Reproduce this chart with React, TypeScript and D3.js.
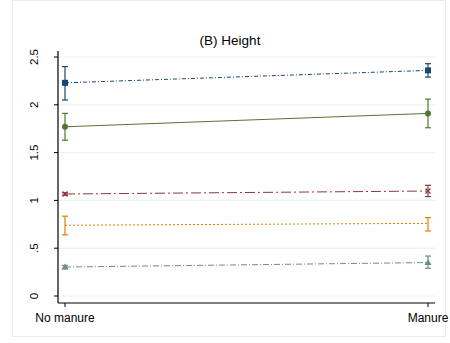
import React from "react";
import * as d3 from "d3";

const categories = ["No manure", "Manure"];
const yTicks = [0, 0.5, 1, 1.5, 2, 2.5];
const yTickLabels = ["0", ".5", "1", "1.5", "2", "2.5"];
const title = "(B) Height";

const blueMean = [2.23, 2.36];
const blueLo = [2.05, 2.29];
const blueHi = [2.4, 2.43];
const greenMean = [1.77, 1.91];
const greenLo = [1.63, 1.76];
const greenHi = [1.91, 2.06];
const redMean = [1.067, 1.098];
const redLo = [1.055, 1.04];
const redHi = [1.08, 1.158];
const orangeMean = [0.74, 0.76];
const orangeLo = [0.64, 0.68];
const orangeHi = [0.835, 0.82];
const tealMean = [0.303, 0.35];
const tealLo = [0.285, 0.29];
const tealHi = [0.32, 0.418];

const series = [
  { mean: blueMean, lo: blueLo, hi: blueHi, color: "#1a476f", dash: "4,2,1,2", marker: "square" },
  { mean: greenMean, lo: greenLo, hi: greenHi, color: "#55752f", dash: "", marker: "circle" },
  { mean: redMean, lo: redLo, hi: redHi, color: "#90353b", dash: "10,3,2,3", marker: "x" },
  { mean: orangeMean, lo: orangeLo, hi: orangeHi, color: "#e37e00", dash: "2,2", marker: "none" },
  { mean: tealMean, lo: tealLo, hi: tealHi, color: "#6e8e84", dash: "6,2,1,2", marker: "triangle" },
];

export default function App() {
  const W = 450, H = 343;
  const x = d3.scalePoint<string>().domain(categories).range([65, 428]);
  const y = d3.scaleLinear().domain([0, 2.5]).range([296, 57]);
  const plotL = 58, plotR = 435, plotT = 51, plotB = 303;
  const line = d3.line<number>().x((_, i) => x(categories[i])!).y((d) => y(d));
  const font = "Liberation Sans, Arial, sans-serif";

  return (
    <svg width={W} height={H} style={{ position: "absolute", left: 0, top: 0 }} fontFamily={font}>
      <rect x={0} y={0} width={W} height={H} fill="#ffffff" />
      <rect x={12.5} y={0.5} width={433} height={336} fill="#ffffff" stroke="#e6eef0" />
      {yTicks.map((t) => (
        <line key={"g" + t} x1={plotL} x2={plotR} y1={y(t)} y2={y(t)} stroke="#eaf2f3" strokeWidth={1.2} />
      ))}
      <text x={230} y={45} textAnchor="middle" fontSize={13.5} fill="#000">{title}</text>
      {series.map((s, si) => (
        <g key={si}>
          <path d={line(s.mean)!} fill="none" stroke={s.color} strokeWidth={1} strokeDasharray={s.dash || undefined} />
          {s.mean.map((m, i) => {
            const cx = x(categories[i])!;
            const cy = y(m);
            return (
              <g key={i}>
                <line x1={cx} x2={cx} y1={y(s.lo[i])} y2={y(s.hi[i])} stroke={s.color} strokeWidth={1.2} />
                <line x1={cx - 3} x2={cx + 3} y1={y(s.lo[i])} y2={y(s.lo[i])} stroke={s.color} strokeWidth={1.2} />
                <line x1={cx - 3} x2={cx + 3} y1={y(s.hi[i])} y2={y(s.hi[i])} stroke={s.color} strokeWidth={1.2} />
                {s.marker === "square" && <rect x={cx - 3} y={cy - 3} width={6} height={6} fill={s.color} />}
                {s.marker === "circle" && <circle cx={cx} cy={cy} r={3} fill={s.color} />}
                {s.marker === "x" && (
                  <path d={`M${cx - 2.5},${cy - 2.5}L${cx + 2.5},${cy + 2.5}M${cx - 2.5},${cy + 2.5}L${cx + 2.5},${cy - 2.5}`} stroke={s.color} strokeWidth={1.2} />
                )}
                {s.marker === "triangle" && (
                  <path d={`M${cx},${cy - 3.5}L${cx + 3.5},${cy + 2.5}L${cx - 3.5},${cy + 2.5}Z`} fill={s.color} />
                )}
              </g>
            );
          })}
        </g>
      ))}
      <line x1={plotL} x2={plotL} y1={plotT} y2={plotB} stroke="#000" strokeWidth={1.2} />
      <line x1={plotL} x2={plotR} y1={plotB} y2={plotB} stroke="#000" strokeWidth={1.2} />
      {yTicks.map((t, i) => (
        <g key={"t" + t}>
          <line x1={plotL - 4} x2={plotL} y1={y(t)} y2={y(t)} stroke="#000" />
          <text transform={`translate(${38},${y(t)}) rotate(-90)`} textAnchor="middle" fontSize={11.5} fill="#000">
            {yTickLabels[i]}
          </text>
        </g>
      ))}
      {categories.map((c) => (
        <g key={c}>
          <line x1={x(c)!} x2={x(c)!} y1={plotB} y2={plotB + 4} stroke="#000" />
          <text x={x(c)!} y={322} textAnchor="middle" fontSize={12} fill="#000">{c}</text>
        </g>
      ))}
    </svg>
  );
}
